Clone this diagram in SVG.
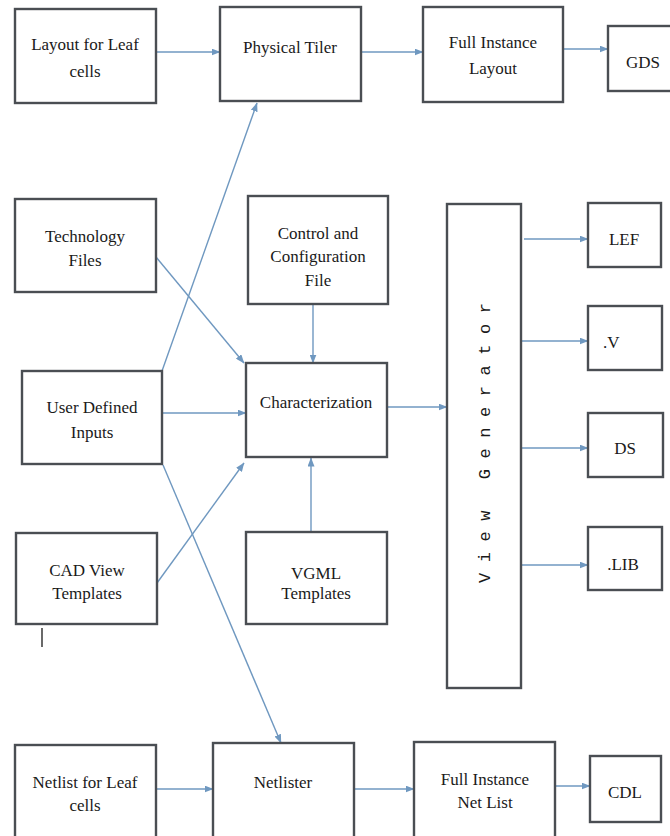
<svg xmlns="http://www.w3.org/2000/svg" width="670" height="836" viewBox="0 0 670 836">
<style>
.box{fill:#fff;stroke:#4a4e53;stroke-width:2.4}
.t{font-family:"Liberation Serif","Times New Roman",serif;font-size:17px;fill:#1a1a1a;text-anchor:middle}
.c{fill:none;stroke:#6f98c0;stroke-width:1.4;marker-end:url(#ah)}
.vg{font-family:"Liberation Mono","Courier New",monospace;font-size:17px;fill:#1a1a1a;text-anchor:middle}
</style>
<defs>
<marker id="ah" markerUnits="userSpaceOnUse" markerWidth="9" markerHeight="7" refX="8.5" refY="3.5" orient="auto">
<path d="M0,0 L9,3.5 L0,7 z" fill="#6f98c0"/>
</marker>
</defs>
<rect width="670" height="836" fill="#fff"/>
<g id="connectors">
<path class="c" d="M156,52 H220"/>
<path class="c" d="M361,52 H423"/>
<path class="c" d="M563,49 H608"/>
<path class="c" d="M162,371 L257,103"/>
<path class="c" d="M156,257 L244,363"/>
<path class="c" d="M313,304 V363"/>
<path class="c" d="M162,413 H246"/>
<path class="c" d="M157,583 L244,463"/>
<path class="c" d="M311,532 V458"/>
<path class="c" d="M163,465 L281,743"/>
<path class="c" d="M387,407 H447"/>
<path class="c" d="M524,239 H588"/>
<path class="c" d="M522,341 H588"/>
<path class="c" d="M522,448 H588"/>
<path class="c" d="M522,565 H588"/>
<path class="c" d="M156,789 H213"/>
<path class="c" d="M354,789 H414"/>
<path class="c" d="M555,786 H590"/>
</g>
<g id="layout-leaf"><rect class="box" x="15" y="9" width="141" height="94"/><text class="t" x="85" y="50">Layout for Leaf</text><text class="t" x="85" y="77">cells</text></g>
<g id="physical-tiler"><rect class="box" x="220" y="7" width="141" height="94"/><text class="t" x="290" y="53">Physical Tiler</text></g>
<g id="full-instance-layout"><rect class="box" x="423" y="7" width="140" height="95"/><text class="t" x="493" y="48">Full Instance</text><text class="t" x="493" y="74">Layout</text></g>
<g id="gds"><rect class="box" x="608" y="26" width="75" height="65"/><text class="t" x="643" y="68">GDS</text></g>
<g id="technology-files"><rect class="box" x="15" y="199" width="141" height="93"/><text class="t" x="85" y="242">Technology</text><text class="t" x="85" y="266">Files</text></g>
<g id="control-config"><rect class="box" x="248" y="196" width="140" height="108"/><text class="t" x="318" y="239">Control and</text><text class="t" x="318" y="262">Configuration</text><text class="t" x="318" y="286">File</text></g>
<g id="user-defined-inputs"><rect class="box" x="22" y="371" width="140" height="93"/><text class="t" x="92" y="413">User Defined</text><text class="t" x="92" y="438">Inputs</text></g>
<g id="characterization"><rect class="box" x="246" y="363" width="141" height="94"/><text class="t" x="316" y="408">Characterization</text></g>
<g id="cad-view-templates"><rect class="box" x="16" y="533" width="141" height="91"/><text class="t" x="87" y="576">CAD View</text><text class="t" x="87" y="599">Templates</text><path d="M42,628 V647" stroke="#2a2a2a" stroke-width="1.4"/></g>
<g id="vgml-templates"><rect class="box" x="246" y="532" width="141" height="92"/><text class="t" x="316" y="579">VGML</text><text class="t" x="316" y="599">Templates</text></g>
<g id="view-generator"><rect class="box" x="447" y="204" width="74" height="484"/><text class="vg" transform="translate(490,443) rotate(-90)" x="0" y="0" textLength="280" lengthAdjust="spacing">View Generator</text></g>
<g id="lef"><rect class="box" x="588" y="203" width="73" height="64"/><text class="t" x="624" y="245">LEF</text></g>
<g id="v"><rect class="box" x="588" y="306" width="74" height="64"/><text class="t" x="603" y="348" style="text-anchor:start">.V</text></g>
<g id="ds"><rect class="box" x="588" y="413" width="75" height="64"/><text class="t" x="625" y="454">DS</text></g>
<g id="lib"><rect class="box" x="588" y="527" width="74" height="63"/><text class="t" x="623" y="570">.LIB</text></g>
<g id="netlist-leaf"><rect class="box" x="15" y="745" width="141" height="100"/><text class="t" x="85" y="788">Netlist for Leaf</text><text class="t" x="85" y="811">cells</text></g>
<g id="netlister"><rect class="box" x="213" y="743" width="141" height="102"/><text class="t" x="283" y="788">Netlister</text></g>
<g id="full-instance-netlist"><rect class="box" x="414" y="742" width="141" height="103"/><text class="t" x="485" y="785">Full Instance</text><text class="t" x="485" y="808">Net List</text></g>
<g id="cdl"><rect class="box" x="590" y="756" width="71" height="66"/><text class="t" x="625" y="798">CDL</text></g>
</svg>
